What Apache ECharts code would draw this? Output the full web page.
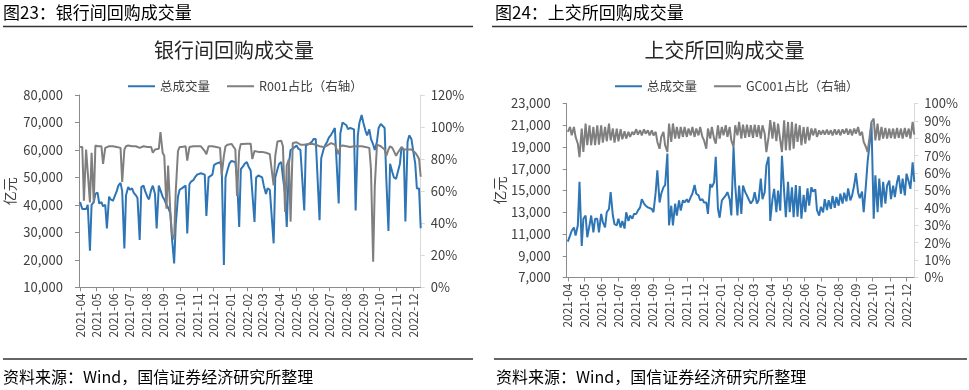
<!DOCTYPE html>
<html><head><meta charset="utf-8">
<script src="https://cdn.jsdelivr.net/npm/echarts@6/dist/echarts.min.js"></script>
<style>html,body{margin:0;padding:0;background:#fff}#c{width:969px;height:390px}</style>
</head><body><div id="c"></div>
<script>
const dates = [
'2021-04-01','2021-04-05','2021-04-08','2021-04-12','2021-04-15','2021-04-19','2021-04-22','2021-04-26','2021-04-29','2021-05-03',
'2021-05-06','2021-05-10','2021-05-13','2021-05-17','2021-05-20','2021-05-24','2021-05-27','2021-05-31','2021-06-03','2021-06-07',
'2021-06-10','2021-06-14','2021-06-17','2021-06-21','2021-06-24','2021-06-28','2021-07-01','2021-07-05','2021-07-08','2021-07-12',
'2021-07-15','2021-07-19','2021-07-22','2021-07-26','2021-07-29','2021-08-02','2021-08-05','2021-08-09','2021-08-12','2021-08-16',
'2021-08-19','2021-08-23','2021-08-26','2021-08-30','2021-09-02','2021-09-06','2021-09-09','2021-09-13','2021-09-16','2021-09-20',
'2021-09-23','2021-09-27','2021-09-30','2021-10-04','2021-10-07','2021-10-11','2021-10-14','2021-10-18','2021-10-21','2021-10-25',
'2021-10-28','2021-11-01','2021-11-04','2021-11-08','2021-11-11','2021-11-15','2021-11-18','2021-11-22','2021-11-25','2021-11-29',
'2021-12-02','2021-12-06','2021-12-09','2021-12-13','2021-12-16','2021-12-20','2021-12-23','2021-12-27','2021-12-30','2022-01-03',
'2022-01-06','2022-01-10','2022-01-13','2022-01-17','2022-01-20','2022-01-24','2022-01-27','2022-01-31','2022-02-03','2022-02-07',
'2022-02-10','2022-02-14','2022-02-17','2022-02-21','2022-02-24','2022-02-28','2022-03-03','2022-03-07','2022-03-10','2022-03-14',
'2022-03-17','2022-03-21','2022-03-24','2022-03-28','2022-03-31','2022-04-04','2022-04-07','2022-04-11','2022-04-14','2022-04-18',
'2022-04-21','2022-04-25','2022-04-28','2022-05-02','2022-05-05','2022-05-09','2022-05-12','2022-05-16','2022-05-19','2022-05-23',
'2022-05-26','2022-05-30','2022-06-02','2022-06-06','2022-06-09','2022-06-13','2022-06-16','2022-06-20','2022-06-23','2022-06-27',
'2022-06-30','2022-07-04','2022-07-07','2022-07-11','2022-07-14','2022-07-18','2022-07-21','2022-07-25','2022-07-28','2022-08-01',
'2022-08-04','2022-08-08','2022-08-11','2022-08-15','2022-08-18','2022-08-22','2022-08-25','2022-08-29','2022-09-01','2022-09-05',
'2022-09-08','2022-09-12','2022-09-15','2022-09-19','2022-09-22','2022-09-26','2022-09-29','2022-10-03','2022-10-06','2022-10-10',
'2022-10-13','2022-10-17','2022-10-20','2022-10-24','2022-10-27','2022-10-31','2022-11-03','2022-11-07','2022-11-10','2022-11-14',
'2022-11-17','2022-11-21','2022-11-24','2022-11-28','2022-12-01','2022-12-05','2022-12-08','2022-12-12','2022-12-15'];

const monthTicks = ['2021-04','2021-05','2021-06','2021-07','2021-08','2021-09','2021-10','2021-11','2021-12',
'2022-01','2022-02','2022-03','2022-04','2022-05','2022-06','2022-07','2022-08','2022-09','2022-10','2022-11','2022-12'];

// 银行间回购：总成交量（亿元）
const ibTotal = [
41000,38500,38000,38500,40000,23300,40000,41000,44000,44500,
40500,41000,39500,40000,31400,43000,42000,41500,42000,45000,
47000,48000,45000,24100,43500,46500,45500,46000,44500,43500,
42500,27200,46500,47000,45000,43000,42000,45500,47000,44000,
31400,47000,47000,43000,42000,40000,39000,37000,28000,18700,
33000,43000,45500,46000,46500,47000,29600,47500,48500,49000,
50000,51000,51000,51500,51500,51000,36000,50000,50500,51000,
54500,55000,55000,55500,54000,18100,50000,53000,55000,56000,
56000,55500,50000,32000,53000,54000,55000,55600,54000,52500,
52500,33800,50000,50700,50500,50000,47000,44000,46000,45500,
45000,26000,50000,53000,55000,55600,50000,44000,32000,55000,
60000,60400,61000,61600,60500,60000,60000,38000,61600,62000,
62000,63000,64000,64000,64000,34400,57000,60000,61600,63000,
64500,65500,66500,68000,68000,40500,66000,70000,70700,69000,
67600,68000,68000,67500,38000,65300,70000,72700,70000,67000,
65300,67500,64000,62000,60000,63000,68000,69500,70000,68000,
50000,30500,55000,52000,50000,49500,50000,55000,61000,60000,
34000,63000,65300,64000,60000,55000,46000,46000,31500];

// 银行间回购：R001占比（%）
const ibR001 = [
87.5,87.5,54,86,86,53,84,53,88.5,88,
87.5,88,77,87,87,88,88.5,88,88,87.5,
87.5,87,65.7,86,88,88.5,88,88,87.5,88,
87.5,87,88,88,88,87.5,88,87.5,84,86,
86,86.5,96.8,84,82,49,76,47,33,30,
60,85,87.5,87.5,87.5,88,79,87.5,88,88,
88.5,88,88,88,87.5,85,83,88,88,88,
87.5,87.5,87.5,87,70,82,88,89,89.5,89.5,
89,86,57,85,89.5,89.5,89.5,89.6,89.6,89.6,
80,85,85,84.5,84.5,84.5,84,84,84,83,
82,63.6,82,91,91.5,91.5,88,47,76,80,
41,90,90.5,90.5,89.5,89,88,89,89.5,89.5,
89.5,89.6,89.6,89,89,88,87.5,87.5,88,88.5,
89.5,90,90,89,88,83,88,88.5,88,88,
88.5,87.5,87.5,88,87.5,88,88.5,88,87.5,87.5,
88,87,74,16,63,89,89,88,87,86,
82,86,88,87,85,82,84,86,87.5,86,
86,86,87,86,85,84,82.5,80,69];

// 上交所回购：总成交量（亿元）
const sseTotal = [
10300,10850,11300,11600,10850,11800,15800,9900,12400,12700,
10700,11800,12700,11150,12400,12400,11150,12850,12100,11600,
13000,13300,14850,12700,11900,11800,12400,11600,12200,11500,
13000,12200,12700,12400,12850,12850,13150,13450,14200,13800,
13600,13450,13600,13300,13000,14850,16850,13900,14700,15300,
15500,18400,11800,13600,11800,13800,12700,14100,13150,14100,
13900,14200,13900,14400,14700,15500,14700,14550,14100,14200,
13900,13900,12850,15600,15300,15750,18100,13300,12500,14100,
14100,14550,14850,14200,12700,19000,15500,12700,15450,12850,
15450,14850,14550,14100,13800,14100,14850,13800,14100,16100,
14200,14850,17300,18100,12200,14200,15150,13000,15000,13150,
18200,14850,12550,15800,13000,15300,12550,15500,12600,15400,
12400,14600,13000,15200,13600,15300,14900,15100,13200,12700,
13500,13000,14200,13200,14100,13300,14500,13400,14400,13600,
14700,13800,14800,14000,15200,14100,14500,15500,16600,14800,
14300,14900,13000,15500,17600,19500,21200,12400,16400,13000,
16100,13450,15800,13800,15450,15900,14200,15450,14400,15800,
16400,14700,16100,14550,16550,15800,15150,17600,15800];

// 上交所回购：GC001占比（%）
const sseGC001 = [
83.7,86.5,81.7,86.5,80.8,76.9,69.2,85.6,72.1,88.5,
76.0,87.5,76.0,86.5,76.0,87.5,76.3,87.5,77.5,86.5,
78.3,88.5,78.8,85.6,77.5,85.6,78.3,85.2,79.4,84.0,
79.8,83.7,80.8,83.7,82.1,85.2,82.1,84.6,81.7,85.2,
82.7,84.6,81.7,84.6,81.7,83.7,77.9,74.0,80.8,83.7,
76.0,72.1,88.5,77.9,88.5,79.8,86.5,79.8,86.5,80.8,
86.5,80.8,85.6,81.7,86.5,80.8,85.6,81.7,86.5,80.8,
78.8,74.0,85.6,79.8,86.5,79.8,76.9,87.5,79.8,86.5,
81.7,87.5,80.8,86.5,78.8,75.0,87.5,81.7,89.4,79.8,
87.9,80.2,87.9,80.8,87.5,80.2,87.9,80.8,87.5,79.8,
87.5,82.7,72.1,80.8,90.4,79.8,89.4,78.3,88.5,78.8,
72.1,90.4,73.1,89.4,73.1,89.4,74.0,88.5,77.9,87.5,
76.0,86.5,76.9,86.5,78.8,85.6,81.7,85.6,80.8,84.6,
82.1,84.6,82.1,85.0,82.1,84.6,81.7,85.2,82.1,85.0,
81.7,85.2,82.7,85.6,82.1,85.2,81.7,85.6,82.7,86.5,
81.7,83.7,77.9,75.0,72.1,81.7,89.4,91.3,78.8,88.5,
78.8,86.5,79.8,86.0,79.8,85.6,80.2,85.6,79.8,86.0,
80.2,85.6,79.8,86.0,80.8,85.6,79.8,89.4,82.1];

function ts(s){const p=s.split('-').map(Number);return new Date(p[0],p[1]-1,p[2]||1).getTime();}
const tickVals = monthTicks.map(ts);
const xMin = ts('2021-03-30'), xMax = ts('2022-12-15');
const FONT = "'Noto Sans CJK SC', sans-serif";
const BLUE = '#2E75B6', GRAY = '#7F7F7F', TXT = '#404040';

function fmtMonth(v){const d=new Date(v);return d.getFullYear()+'-'+String(d.getMonth()+1).padStart(2,'0');}
function xAxisCfg(gi){
  return {type:'value', gridIndex:gi, min:xMin, max:xMax, scale:true,
    axisLine:{show:true, lineStyle:{color:'#8c8c8c', width:1}},
    axisTick:{show:true, customValues:tickVals, length:4, lineStyle:{color:'#8c8c8c'}},
    axisLabel:{customValues:tickVals, rotate:90, margin:6, fontSize:12, color:TXT, fontFamily:FONT, formatter:fmtMonth},
    splitLine:{show:false}};
}
function yLeft(gi,min,max,itv,gap){
  return {type:'value', gridIndex:gi, position:'left', min:min, max:max, interval:itv,
    axisLine:{show:true, lineStyle:{color:'#8c8c8c'}}, axisTick:{show:true, length:4, lineStyle:{color:'#8c8c8c'}},
    splitLine:{show:false},
    axisLabel:{margin:16, fontSize:13, color:TXT, fontFamily:FONT, formatter:function(v){return v.toLocaleString('en-US');}},
    name:'亿元', nameLocation:'middle', nameRotate:90, nameGap:gap, nameTextStyle:{fontSize:14, color:TXT, fontFamily:FONT}};
}
function yRight(gi,min,max,itv){
  return {type:'value', gridIndex:gi, position:'right', min:min, max:max, interval:itv,
    axisLine:{show:true, lineStyle:{color:'#d9d9d9'}}, axisTick:{show:true, length:4, lineStyle:{color:'#d9d9d9'}},
    splitLine:{show:false},
    axisLabel:{margin:10, fontSize:13, color:TXT, fontFamily:FONT, formatter:'{value}%'}};
}
function lineSeries(name, vals, xi, yi, color, z){
  return {type:'line', name:name, xAxisIndex:xi, yAxisIndex:yi, symbol:'none', showSymbol:false, z:z,
    color:color, lineStyle:{width:2, color:color}, data:dates.map(function(d,i){return [ts(d), vals[i]];})};
}
function txt(t,x,y,size,align,fill){
  return {type:'text', x:x, y:y, silent:true, style:{text:t, fill:fill||'#000', font:size+'px '+FONT, textAlign:align||'left', verticalAlign:'middle'}};
}
function hline(x1,x2,y){
  return {type:'line', silent:true, shape:{x1:x1,y1:y,x2:x2,y2:y}, style:{stroke:'#333', lineWidth:1.5}};
}

const chart = echarts.init(document.getElementById('c'), null, {renderer:'canvas'});
chart.setOption({
  animation:false,
  textStyle:{fontFamily:FONT},
  grid:[
    {left:79, top:95, width:341.7, height:192.3, containLabel:false},
    {left:566.7, top:103.5, width:347.6, height:174, containLabel:false}
  ],
  legend:[
    {data:['总成交量','R001占比（右轴）'], left:123, top:75, icon:'rect', itemWidth:27, itemHeight:2, itemGap:17,
     textStyle:{fontSize:12.5, color:TXT, fontFamily:FONT}},
    {data:['总成交量','GC001占比（右轴）'], left:610, top:75, icon:'rect', itemWidth:27, itemHeight:2, itemGap:17,
     textStyle:{fontSize:12.5, color:TXT, fontFamily:FONT}}
  ],
  xAxis:[xAxisCfg(0), xAxisCfg(1)],
  yAxis:[yLeft(0,10000,80000,10000,62), yRight(0,0,120,20), yLeft(1,7000,23000,2000,56), yRight(1,0,100,10)],
  series:[
    lineSeries('总成交量', ibTotal, 0, 0, BLUE, 2),
    lineSeries('R001占比（右轴）', ibR001, 0, 1, GRAY, 3),
    lineSeries('总成交量', sseTotal, 1, 2, BLUE, 2),
    lineSeries('GC001占比（右轴）', sseGC001, 1, 3, GRAY, 3)
  ],
  graphic:[
    txt('图23：银行间回购成交量', 3, 12.5, 17),
    hline(3, 473, 26.5),
    txt('银行间回购成交量', 234, 50.5, 20, 'center', '#262626'),
    hline(3, 473, 359),
    txt('资料来源：Wind，国信证券经济研究所整理', 3, 377, 16),
    txt('图24：上交所回购成交量', 495, 12.5, 17),
    hline(492, 967, 26.5),
    txt('上交所回购成交量', 724.5, 50.5, 20, 'center', '#262626'),
    hline(494, 967, 359),
    txt('资料来源：Wind，国信证券经济研究所整理', 496, 377, 16)
  ]
});
</script>
</body></html>
